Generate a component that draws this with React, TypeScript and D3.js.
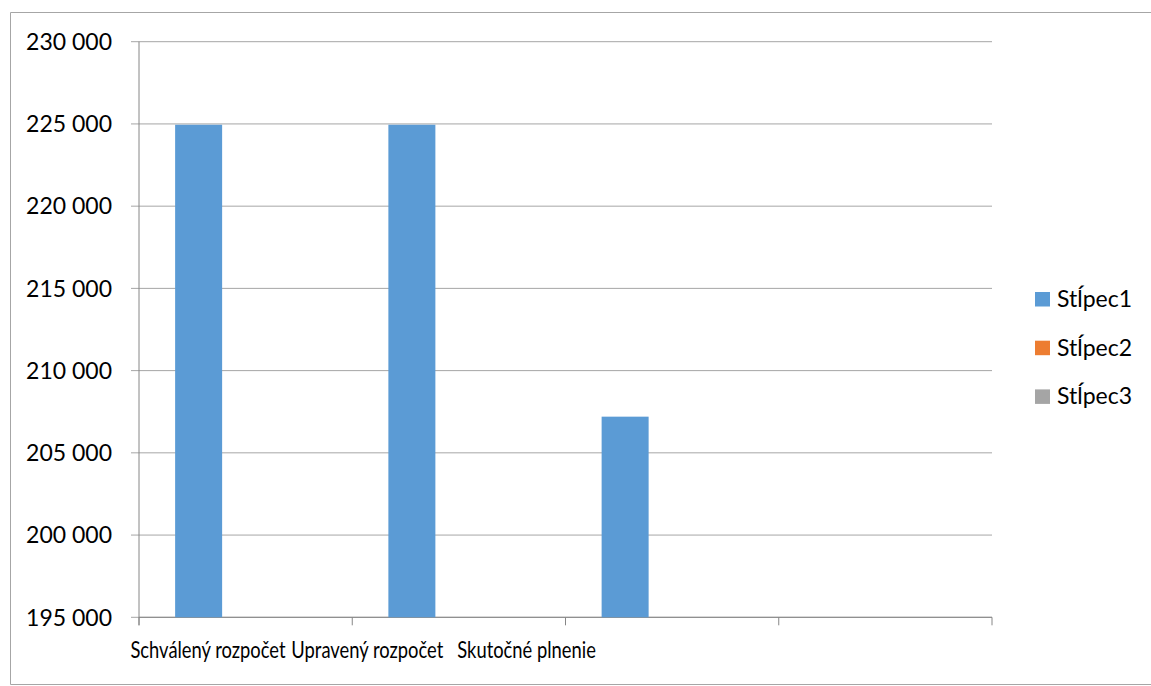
import React from "react";
import * as d3 from "d3";

const categories = ["Schválený rozpočet", "Upravený rozpočet", "Skutočné plnenie", ""];
const seriesNames = ["Stĺpec1", "Stĺpec2", "Stĺpec3"];
const stlpec1 = [224950, 224950, 207200, null];
const stlpec2 = [null, null, null, null];
const stlpec3 = [null, null, null, null];
const yTicks = [195000, 200000, 205000, 210000, 215000, 220000, 225000, 230000];
const colors = ["#5b9bd5", "#ed7d31", "#a5a5a5"];

const W = 1151;
const H = 686;
const left = 139;
const right = 992;
const top = 41.7;
const bottom = 617.3;
const FONT = "Lato, 'Open Sans', sans-serif";

export default function App() {
  const series = [stlpec1, stlpec2, stlpec3];
  const x = d3.scaleBand<string>().domain(categories.map((c, i) => String(i))).range([left, right]).padding(0);
  const y = d3.scaleLinear().domain([195000, 230000]).range([bottom, top]);
  const bw = x.bandwidth();
  const barW = 47;
  const groupOff = (bw - barW * series.length) / 2;
  const fmt = (v: number) => d3.format(",")(v).replace(/,/g, " ");
  const boundaries = d3.range(categories.length + 1).map((i) => left + i * bw);
  const labelStep = 159.3;

  return (
    <svg width={W} height={H} style={{ position: "absolute", left: 0, top: 0, background: "#fff" }}>
      <rect x={0} y={0} width={W} height={H} fill="#fff" />
      {/* outer border */}
      <path d={`M${W + 5},12.5 H10.5 V684.5 H${W + 5}`} fill="none" stroke="#a6a6a6" strokeWidth={1} />
      {/* gridlines */}
      {yTicks.map((t) => (
        <line key={t} x1={131} x2={right} y1={y(t)} y2={y(t)} stroke="#a6a6a6" strokeWidth={1} />
      ))}
      {/* y axis */}
      <line x1={left} x2={left} y1={top} y2={bottom + 8} stroke="#868686" strokeWidth={1} />
      {/* x axis */}
      <line x1={left} x2={right} y1={bottom} y2={bottom} stroke="#868686" strokeWidth={1} />
      {boundaries.map((b, i) => (
        <line key={i} x1={b} x2={b} y1={bottom} y2={bottom + 8} stroke="#868686" strokeWidth={1} />
      ))}
      {/* bars */}
      {series.map((s, si) =>
        s.map((v, ci) =>
          v == null ? null : (
            <rect
              key={`${si}-${ci}`}
              x={(x(String(ci)) as number) + groupOff + si * barW}
              y={y(v)}
              width={barW}
              height={bottom - y(v)}
              fill={colors[si]}
            />
          )
        )
      )}
      {/* y labels */}
      {yTicks.map((t) => (
        <text key={t} x={112} y={y(t)} dy="0.36em" textAnchor="end" fontFamily={FONT} fontSize={23} fill="#000">
          {fmt(t)}
        </text>
      ))}
      {/* category labels */}
      {categories.map((c, i) =>
        c ? (
          <g key={i} transform={`translate(${left + 69 + i * labelStep}, 658) scale(0.765, 1)`}>
            <text x={0} y={0} textAnchor="middle" fontFamily={FONT} fontSize={24} fill="#000">
              {c}
            </text>
          </g>
        ) : null
      )}
      {/* legend */}
      {seriesNames.map((n, i) => (
        <g key={n} transform={`translate(1035, ${292 + i * 48.7})`}>
          <rect x={0} y={0} width={15} height={14.5} fill={colors[i]} />
          <text x={22} y={15} fontFamily={FONT} fontSize={23} fill="#000">
            {n}
          </text>
        </g>
      ))}
    </svg>
  );
}
